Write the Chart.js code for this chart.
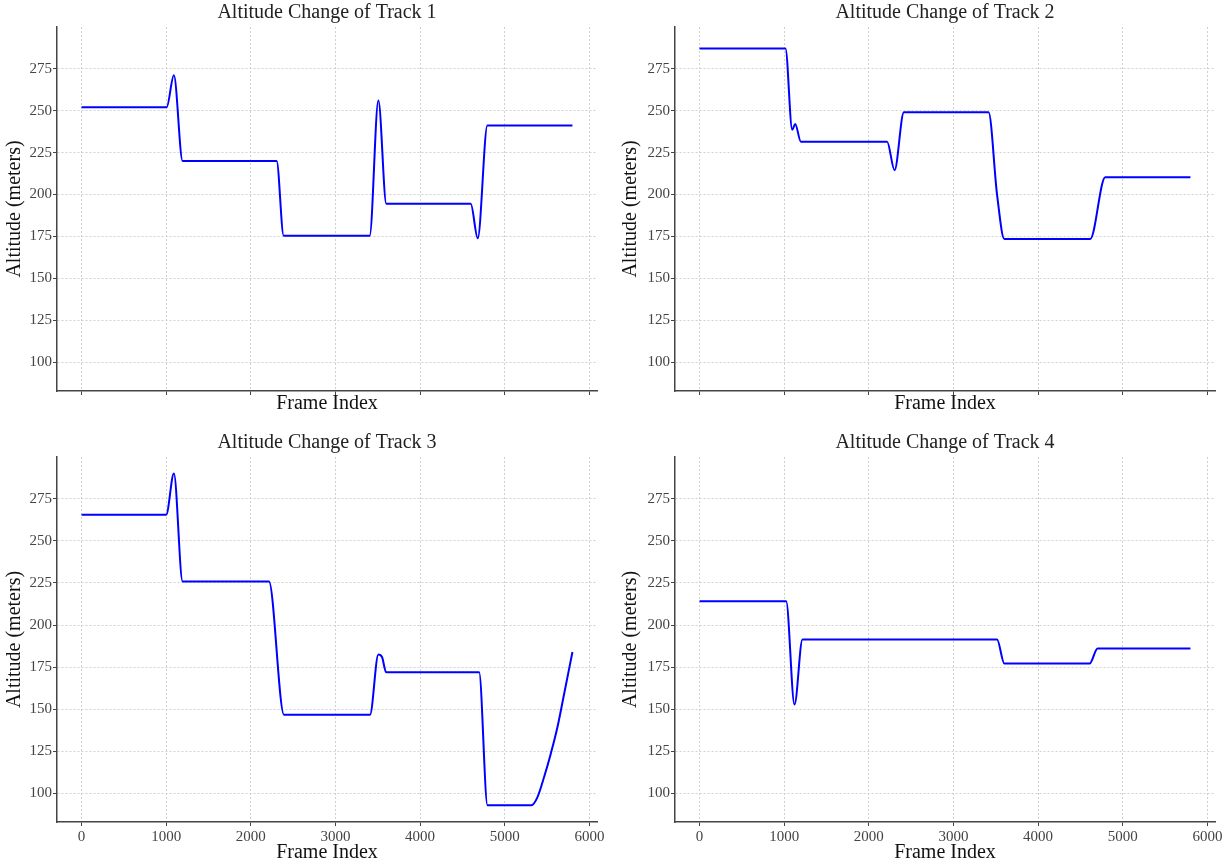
<!DOCTYPE html>
<html>
<head>
<meta charset="utf-8">
<script src="https://cdn.jsdelivr.net/npm/chart.js@4"></script>
<style>
  body { margin: 0; background: #fff; }
  #wrap { position: relative; width: 1232px; height: 865px; }
  canvas { position: absolute; }
</style>
</head>
<body>
<div id="wrap">
  <canvas id="c1" width="616" height="420" style="left:0;top:0"></canvas>
  <canvas id="c2" width="616" height="420" style="left:616px;top:0"></canvas>
  <canvas id="c3" width="616" height="435" style="left:0;top:430px"></canvas>
  <canvas id="c4" width="616" height="435" style="left:616px;top:430px"></canvas>
</div>
<script>
// values (frame index -> altitude in meters)
const track1Frames = [0, 1005, 1091, 1194, 2305, 2388, 3404, 3507, 3601, 4598, 4681, 4795, 5800];
const track1Alt    = [252, 252, 271, 220, 220, 175.5, 175.5, 256, 194.5, 194.5, 174, 241.2, 241.2];

const track2Frames = [0, 1015, 1095, 1130, 1197, 2216, 2304, 2414, 3415, 3515, 3601, 4616, 4793, 5800];
const track2Alt    = [287, 287, 238.6, 242, 231.5, 231.5, 214.5, 249, 249, 200, 173.5, 173.5, 210.3, 210.3];

const track3Frames = [0, 1000, 1091, 1194, 2214, 2392, 3408, 3507, 3550, 3598, 4697, 4796, 5316, 5387, 5465, 5544, 5623, 5702, 5800];
const track3Alt    = [265.5, 265.5, 290, 225.8, 225.8, 146.7, 146.7, 182.5, 181, 172, 172, 93, 93, 97.8, 109.7, 123.6, 139.4, 159.2, 184];

const track4Frames = [0, 1023, 1122, 1216, 3515, 3601, 4608, 4703, 5800];
const track4Alt    = [214.1, 214.1, 152.8, 191.4, 191.4, 177.1, 177.1, 186, 186];

const xTicks = [0, 1000, 2000, 3000, 4000, 5000, 6000];
const yTicks = [100, 125, 150, 175, 200, 225, 250, 275];

const serif = "'Liberation Serif', 'Times New Roman', serif";

function makeChart(id, frames, alts, title, showXLabels, xAxisHeight, yAxisWidth, padRight) {
  const points = frames.map((f, i) => ({ x: f, y: alts[i] }));

  // title centred on the plot area, like matplotlib
  const titlePlugin = {
    id: 'axTitle',
    afterDraw(chart) {
      const ctx = chart.ctx, a = chart.chartArea;
      ctx.save();
      ctx.font = '20px ' + serif;
      ctx.fillStyle = '#222';
      ctx.textAlign = 'center';
      ctx.textBaseline = 'middle';
      ctx.fillText(title, (a.left + a.right) / 2, 13);
      ctx.restore();
    }
  };

  return new Chart(document.getElementById(id), {
    type: 'line',
    data: {
      datasets: [{
        data: points,
        borderColor: '#0000ff',
        borderWidth: 2,
        pointRadius: 0,
        cubicInterpolationMode: 'monotone',
        fill: false
      }]
    },
    options: {
      responsive: false,
      animation: false,
      devicePixelRatio: 1,
      layout: { padding: { top: 27, right: padRight, bottom: 0, left: 0 } },
      plugins: { legend: { display: false }, tooltip: { enabled: false } },
      scales: {
        x: {
          type: 'linear',
          min: -290, max: 6090,
          afterBuildTicks: s => { s.ticks = xTicks.map(v => ({ value: v })); },
          afterFit: s => { s.height = xAxisHeight; },
          ticks: {
            display: showXLabels,
            color: '#444',
            padding: 2,
            maxRotation: 0,
            font: { family: serif, size: 15 },
            callback: v => v
          },
          grid: { color: '#d0d0d0', tickColor: '#444', tickLength: 4 },
          border: { display: true, color: '#444', width: 1.5, dash: [2, 2] },
          title: {
            display: true, text: 'Frame Index', color: '#111',
            font: { family: serif, size: 20 },
            padding: { top: 0, bottom: showXLabels ? 0 : 4 }
          }
        },
        y: {
          type: 'linear',
          min: 83, max: 299.8,
          afterBuildTicks: s => { s.ticks = yTicks.map(v => ({ value: v })); },
          afterFit: s => { s.width = yAxisWidth; },
          ticks: { color: '#444', padding: 1, font: { family: serif, size: 15 } },
          grid: { color: '#d0d0d0', tickColor: '#444', tickLength: 4 },
          border: { display: true, color: '#444', width: 1.5, dash: [2, 2] },
          title: {
            display: true, text: 'Altitude (meters)', color: '#111',
            font: { family: serif, size: 20 },
            padding: { top: 3, bottom: 0 }
          }
        }
      }
    },
    plugins: [titlePlugin]
  });
}

makeChart('c1', track1Frames, track1Alt, 'Altitude Change of Track 1', false, 29, 57, 19);
makeChart('c2', track2Frames, track2Alt, 'Altitude Change of Track 2', false, 29, 59, 17);
makeChart('c3', track3Frames, track3Alt, 'Altitude Change of Track 3', true, 43, 57, 19);
makeChart('c4', track4Frames, track4Alt, 'Altitude Change of Track 4', true, 43, 59, 17);
</script>
</body>
</html>
